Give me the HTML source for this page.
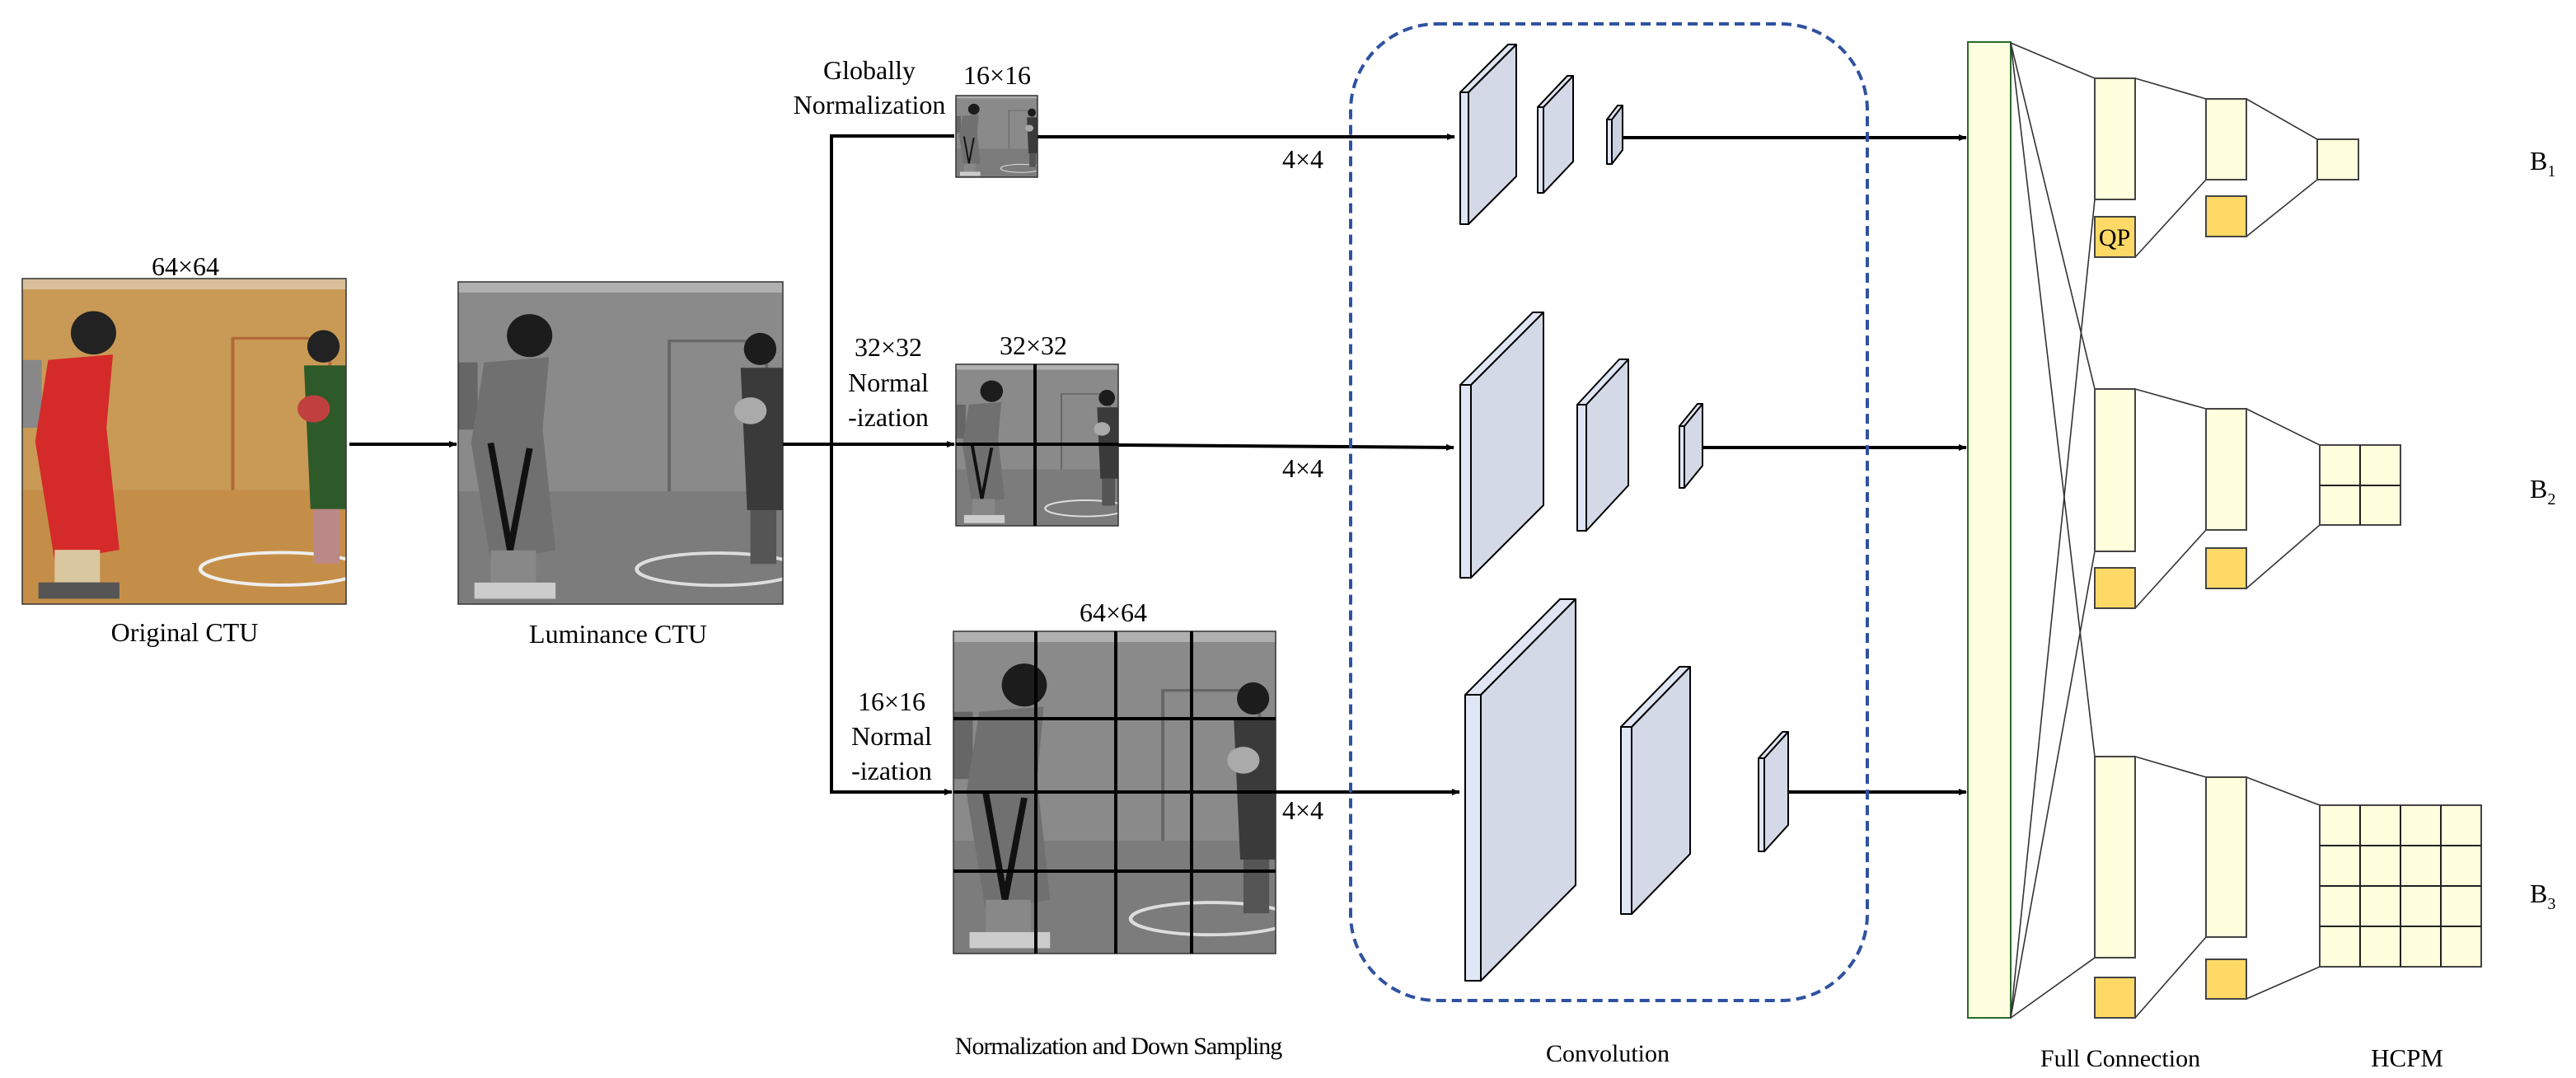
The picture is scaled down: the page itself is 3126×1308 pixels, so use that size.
<!DOCTYPE html>
<html><head><meta charset="utf-8"><style>
html,body{margin:0;padding:0;background:#fff}
svg{display:block}
svg text{font-family:"Liberation Serif","Times New Roman",serif;fill:#000}
</style></head><body>
<svg width="3126" height="1308" viewBox="0 0 3126 1308" xmlns="http://www.w3.org/2000/svg" font-family="'Liberation Serif', 'Times New Roman', serif">
<defs>
<marker id="ar" markerWidth="10" markerHeight="10" refX="9" refY="5" orient="auto" markerUnits="userSpaceOnUse"><path d="M0,1 L10,5 L0,9 z" fill="#000"/></marker>
<symbol id="col" viewBox="0 0 100 120" preserveAspectRatio="none">
<rect width="100" height="120" fill="#c99a55"/>
<rect y="0" width="100" height="4" fill="#d9c09a"/>
<rect x="65" y="22" width="30" height="60" fill="none" stroke="#b06a3a" stroke-width="1"/>
<rect y="78" width="100" height="42" fill="#c58e48"/>
<ellipse cx="80" cy="107" rx="25" ry="6" fill="none" stroke="#eee" stroke-width="1.2"/>
<rect x="0" y="30" width="6" height="25" fill="#888"/>
<ellipse cx="22" cy="20" rx="7" ry="8" fill="#222"/>
<path d="M8,30 L28,28 L26,55 L30,100 L10,104 L4,60 z" fill="#d42a2a"/>
<rect x="10" y="100" width="14" height="12" fill="#d9c7a0"/>
<rect x="5" y="112" width="25" height="6" fill="#555"/>
<ellipse cx="93" cy="25" rx="5" ry="6" fill="#222"/>
<path d="M87,32 L100,32 L100,85 L89,85 z" fill="#2e5a2a"/>
<circle cx="90" cy="48" r="5" fill="#c04040"/>
<rect x="90" y="85" width="8" height="20" fill="#b88"/>
</symbol>
<symbol id="gray" viewBox="0 0 100 120" preserveAspectRatio="none">
<rect width="100" height="120" fill="#8a8a8a"/>
<rect y="0" width="100" height="4" fill="#b0b0b0"/>
<rect x="65" y="22" width="30" height="60" fill="none" stroke="#666" stroke-width="1"/>
<rect y="78" width="100" height="42" fill="#7c7c7c"/>
<ellipse cx="80" cy="107" rx="25" ry="6" fill="none" stroke="#ddd" stroke-width="1.2"/>
<rect x="0" y="30" width="6" height="25" fill="#666"/>
<ellipse cx="22" cy="20" rx="7" ry="8" fill="#1c1c1c"/>
<path d="M8,30 L28,28 L26,55 L30,100 L10,104 L4,60 z" fill="#707070"/>
<path d="M10,60 L16,100 L22,62" fill="none" stroke="#111" stroke-width="2"/>
<rect x="10" y="100" width="14" height="12" fill="#888"/>
<rect x="5" y="112" width="25" height="6" fill="#ccc"/>
<ellipse cx="93" cy="25" rx="5" ry="6" fill="#1c1c1c"/>
<path d="M87,32 L100,32 L100,85 L89,85 z" fill="#3a3a3a"/>
<circle cx="90" cy="48" r="5" fill="#aaa"/>
<rect x="90" y="85" width="8" height="20" fill="#555"/>
</symbol>
</defs>

<use href="#col" x="27" y="338" width="393" height="395"/>
<rect x="27" y="338" width="393" height="395" fill="none" stroke="#333" stroke-width="1.5"/>
<use href="#gray" x="556" y="342" width="394" height="391"/>
<rect x="556" y="342" width="394" height="391" fill="none" stroke="#333" stroke-width="1.5"/>
<use href="#gray" x="1160" y="116" width="99" height="99"/>
<rect x="1160" y="116" width="99" height="99" fill="none" stroke="#333" stroke-width="1.5"/>
<use href="#gray" x="1160" y="442" width="197" height="196"/>
<rect x="1160" y="442" width="197" height="196" fill="none" stroke="#333" stroke-width="1.5"/>
<g stroke="#000" stroke-width="4"><line x1="1256" y1="442" x2="1256" y2="638"/><line x1="1160" y1="539" x2="1357" y2="539"/></g>
<use href="#gray" x="1157" y="766" width="391" height="391"/>
<rect x="1157" y="766" width="391" height="391" fill="none" stroke="#333" stroke-width="1.5"/>
<g stroke="#000" stroke-width="4">
<line x1="1257" y1="766" x2="1257" y2="1157"/><line x1="1354" y1="766" x2="1354" y2="1157"/><line x1="1446" y1="766" x2="1446" y2="1157"/>
<line x1="1157" y1="872" x2="1548" y2="872"/><line x1="1157" y1="961" x2="1548" y2="961"/><line x1="1157" y1="1057" x2="1548" y2="1057"/>
</g>

<g stroke="#000" stroke-width="4" fill="none">
<line x1="424" y1="539" x2="554" y2="539" marker-end="url(#ar)"/>
<line x1="950" y1="539" x2="1009" y2="539"/>
<line x1="1009" y1="539" x2="1158" y2="539" marker-end="url(#ar)"/>
<polyline points="1158,165 1009,165 1009,961 1155,961" marker-end="url(#ar)"/>
<line x1="1259" y1="166" x2="1765" y2="166" marker-end="url(#ar)"/>
<line x1="1357" y1="540" x2="1764" y2="543" marker-end="url(#ar)"/>
<line x1="1548" y1="961" x2="1771" y2="961" marker-end="url(#ar)"/>
<line x1="1968" y1="167" x2="2386" y2="167" marker-end="url(#ar)"/>
<line x1="2066" y1="543" x2="2386" y2="543" marker-end="url(#ar)"/>
<line x1="2170" y1="961" x2="2386" y2="961" marker-end="url(#ar)"/>
</g>

<rect x="1639" y="29" width="627" height="1185" rx="105" ry="105" fill="none" stroke="#2f52a0" stroke-width="4" stroke-dasharray="12,7"/>

<g stroke="#000" stroke-width="2" stroke-linejoin="round">
<polygon points="1782,112 1840,54 1840,214 1782,272" fill="#d3d9e6"/><polygon points="1772,112 1830,54 1840,54 1782,112" fill="#dfe5f2"/><rect x="1772" y="112" width="10" height="160" fill="#dfe6f5"/>
<polygon points="1873,130 1909,92 1909,196 1873,234" fill="#d3d9e6"/><polygon points="1866,130 1902,92 1909,92 1873,130" fill="#dfe5f2"/><rect x="1866" y="130" width="7" height="104" fill="#dfe6f5"/>
<polygon points="1956,145 1969,128 1969,182 1956,199" fill="#c9d0de"/><polygon points="1950,145 1963,128 1969,128 1956,145" fill="#dfe5f2"/><rect x="1950" y="145" width="6" height="54" fill="#dfe6f5"/>
<polygon points="1785,467 1873,379 1873,613 1785,701" fill="#d3d9e6"/><polygon points="1772,467 1860,379 1873,379 1785,467" fill="#dfe5f2"/><rect x="1772" y="467" width="13" height="234" fill="#dfe6f5"/>
<polygon points="1925,491 1976,436 1976,589 1925,644" fill="#d3d9e6"/><polygon points="1914,491 1965,436 1976,436 1925,491" fill="#dfe5f2"/><rect x="1914" y="491" width="11" height="153" fill="#dfe6f5"/>
<polygon points="2044,517 2066,490 2066,565 2044,592" fill="#d3d9e6"/><polygon points="2038,517 2060,490 2066,490 2044,517" fill="#dfe5f2"/><rect x="2038" y="517" width="6" height="75" fill="#dfe6f5"/>
<polygon points="1797,843 1912,727 1912,1074 1797,1190" fill="#d3d9e6"/><polygon points="1778,843 1893,727 1912,727 1797,843" fill="#dfe5f2"/><rect x="1778" y="843" width="19" height="347" fill="#dfe6f5"/>
<polygon points="1980,882 2051,809 2051,1036 1980,1109" fill="#d3d9e6"/><polygon points="1967,882 2038,809 2051,809 1980,882" fill="#dfe5f2"/><rect x="1967" y="882" width="13" height="227" fill="#dfe6f5"/>
<polygon points="2141,920 2170,888 2170,1001 2141,1033" fill="#d3d9e6"/><polygon points="2134,920 2163,888 2170,888 2141,920" fill="#dfe5f2"/><rect x="2134" y="920" width="7" height="113" fill="#dfe6f5"/>
</g>

<rect x="2388" y="51" width="52" height="1184" fill="#fffee0" stroke="#2a6a2a" stroke-width="2"/>
<g stroke="#333" stroke-width="1.6" fill="none">
<line x1="2440" y1="52" x2="2542" y2="95"/>
<line x1="2440" y1="52" x2="2542" y2="472"/>
<line x1="2440" y1="52" x2="2542" y2="918"/>
<line x1="2440" y1="1235" x2="2542" y2="242"/>
<line x1="2440" y1="1235" x2="2542" y2="669"/>
<line x1="2440" y1="1235" x2="2542" y2="1162"/>
<line x1="2591" y1="95" x2="2677" y2="120"/><line x1="2591" y1="312" x2="2677" y2="218"/>
<line x1="2726" y1="120" x2="2812" y2="169"/><line x1="2726" y1="287" x2="2812" y2="218"/>
<line x1="2591" y1="472" x2="2677" y2="496"/><line x1="2591" y1="738" x2="2677" y2="643"/>
<line x1="2726" y1="496" x2="2815" y2="540"/><line x1="2726" y1="714" x2="2815" y2="637"/>
<line x1="2591" y1="918" x2="2677" y2="943"/><line x1="2591" y1="1235" x2="2677" y2="1137"/>
<line x1="2726" y1="943" x2="2815" y2="977"/><line x1="2726" y1="1212" x2="2815" y2="1173"/>
</g>
<g stroke="#444" stroke-width="2">
<rect x="2542" y="95" width="49" height="147" fill="#fffedd"/>
<rect x="2542" y="263" width="49" height="49" fill="#ffd966"/>
<rect x="2677" y="120" width="49" height="98" fill="#fffedd"/>
<rect x="2677" y="238" width="49" height="49" fill="#ffd966"/>
<rect x="2812" y="169" width="50" height="49" fill="#fffedd"/>
<rect x="2542" y="472" width="49" height="197" fill="#fffedd"/>
<rect x="2542" y="689" width="49" height="49" fill="#ffd966"/>
<rect x="2677" y="496" width="49" height="147" fill="#fffedd"/>
<rect x="2677" y="665" width="49" height="49" fill="#ffd966"/>
<rect x="2815" y="540" width="98" height="97" fill="#fffedd"/>
<rect x="2542" y="918" width="49" height="244" fill="#fffedd"/>
<rect x="2542" y="1186" width="49" height="49" fill="#ffd966"/>
<rect x="2677" y="943" width="49" height="194" fill="#fffedd"/>
<rect x="2677" y="1164" width="49" height="48" fill="#ffd966"/>
<rect x="2815" y="977" width="196" height="196" fill="#fffedd"/>
</g>
<g stroke="#222" stroke-width="2">
<line x1="2864" y1="540" x2="2864" y2="637"/><line x1="2815" y1="589" x2="2913" y2="589"/>
<line x1="2864" y1="977" x2="2864" y2="1173"/><line x1="2913" y1="977" x2="2913" y2="1173"/><line x1="2962" y1="977" x2="2962" y2="1173"/>
<line x1="2815" y1="1026" x2="3011" y2="1026"/><line x1="2815" y1="1075" x2="3011" y2="1075"/><line x1="2815" y1="1124" x2="3011" y2="1124"/>
</g>
<text x="2566" y="298" font-size="30" text-anchor="middle">QP</text>

<g font-size="32">
<text x="225" y="334" text-anchor="middle">64×64</text>
<text x="224" y="778" text-anchor="middle">Original CTU</text>
<text x="750" y="780" text-anchor="middle">Luminance CTU</text>
<text x="1055" y="96" text-anchor="middle">Globally</text>
<text x="1055" y="138" text-anchor="middle">Normalization</text>
<text x="1210" y="102" text-anchor="middle">16×16</text>
<text x="1078" y="432" text-anchor="middle">32×32</text>
<text x="1078" y="475" text-anchor="middle">Normal</text>
<text x="1078" y="517" text-anchor="middle">-ization</text>
<text x="1254" y="430" text-anchor="middle">32×32</text>
<text x="1082" y="862" text-anchor="middle">16×16</text>
<text x="1082" y="904" text-anchor="middle">Normal</text>
<text x="1082" y="946" text-anchor="middle">-ization</text>
<text x="1351" y="754" text-anchor="middle">64×64</text>
<text x="1556" y="204">4×4</text>
<text x="1556" y="579">4×4</text>
<text x="1556" y="994">4×4</text>
<text x="1357" y="1279" text-anchor="middle" font-size="30" letter-spacing="-1">Normalization and Down Sampling</text>
<text x="1951" y="1288" text-anchor="middle" font-size="30">Convolution</text>
<text x="2573" y="1294" text-anchor="middle" font-size="30">Full Connection</text>
<text x="2921" y="1294" text-anchor="middle" font-size="31">HCPM</text>
<text x="3070" y="206">B<tspan font-size="20" dy="8">1</tspan></text>
<text x="3070" y="604">B<tspan font-size="20" dy="8">2</tspan></text>
<text x="3070" y="1095">B<tspan font-size="20" dy="8">3</tspan></text>
</g>
</svg>
</body></html>
